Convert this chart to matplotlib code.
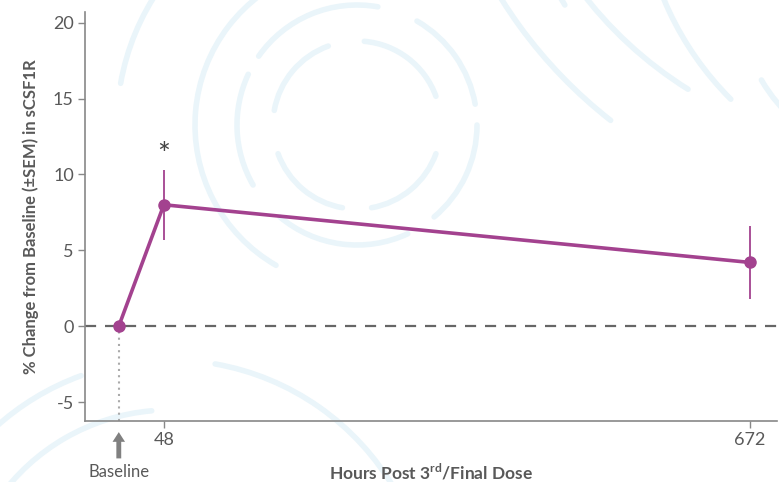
import matplotlib.pyplot as plt
from matplotlib.patches import Arc

# sCSF1R change from baseline, mean and SEM
hours = [0, 48, 672]
pct_change = [0.0, 8.0, 4.2]
sem = [0.0, 2.3, 2.4]
xtick_vals = [48, 672]
ytick_vals = [-5, 0, 5, 10, 15, 20]

purple = "#A3428F"
grey_text = "#595959"
ring_col = "#EAF5FA"

plt.rcParams["font.family"] = ["Lato", "DejaVu Sans"]
plt.rcParams["axes.unicode_minus"] = False

fig = plt.figure(figsize=(7.79, 4.82), dpi=100)

# faint watermark rings behind the plot (pixel coordinates, y down,
# so arc angles run clockwise on screen)
bg = fig.add_axes([0, 0, 1, 1], zorder=-1)
bg.set_xlim(0, 779)
bg.set_ylim(482, 0)
bg.set_aspect("equal")
bg.axis("off")
rings = [
    ((357, 125), 84, [(20, 80), (100, 160), (190, 250), (275, 340)]),
    ((357, 125), 120, [(0, 50), (65, 130), (150, 205), (215, 280), (300, 350)]),
    ((357, 125), 162, [(120, 250)]),
    ((357, 125), 240, [(190, 240), (280, 330)]),
    ((900, -250), 470, [(128, 160)]),
    ((900, -250), 400, [(122, 165)]),
    ((950, -120), 310, [(135, 175)]),
    ((900, 0), 160, [(110, 150)]),
    ((170, 620), 260, [(205, 250), (280, 330)]),
    ((170, 620), 210, [(215, 265)]),
]
for center, r, spans in rings:
    for t1, t2 in spans:
        bg.add_patch(Arc(center, 2 * r, 2 * r, theta1=t1, theta2=t2,
                         color=ring_col, lw=4, capstyle="round"))

ax = fig.add_axes([0.1091, 0.1266, 0.8883, 0.8484])
ax.patch.set_alpha(0)

ax.axhline(0, color="#666666", lw=1.6, ls=(0, (5, 4)), zorder=1)
ax.plot([0, 0], [-6.25, 0], color="#AAAAAA", lw=1.5, ls=(0, (1, 2)), zorder=1)

ax.errorbar(hours, pct_change, yerr=sem, color=purple, lw=2.6,
            marker="o", ms=8, elinewidth=1.3, capsize=0, zorder=3)

ax.text(48, 11.3, "*", ha="center", va="center", fontsize=22, color="#444444")

ax.set_xlim(-36, 701)
ax.set_ylim(-6.25, 20.7)
ax.set_xticks(xtick_vals)
ax.set_yticks(ytick_vals)
ax.tick_params(colors="#888888", labelcolor=grey_text, labelsize=13,
               length=5, width=1, pad=3)

for side in ("top", "right"):
    ax.spines[side].set_visible(False)
for side in ("left", "bottom"):
    ax.spines[side].set_color("#888888")
    ax.spines[side].set_linewidth(1.2)

ax.set_xlabel("Hours Post 3$^{\\mathregular{rd}}$/Final Dose", fontsize=12.5,
              fontweight="bold", color=grey_text, labelpad=10)
ax.set_ylabel("% Change from Baseline (\u00b1SEM) in sCSF1R", fontsize=12,
              fontweight="bold", color=grey_text, labelpad=10)

# baseline marker under the axis
ax.annotate("", xy=(0, -6.8), xytext=(0, -8.9), xycoords="data",
            arrowprops=dict(arrowstyle="simple,head_width=0.9,head_length=0.7,tail_width=0.35",
                            color="#808080", lw=0), annotation_clip=False)
ax.text(0, -9.1, "Baseline", ha="center", va="top", fontsize=12,
        color=grey_text, clip_on=False)

fig.savefig("out.png", dpi=100)
